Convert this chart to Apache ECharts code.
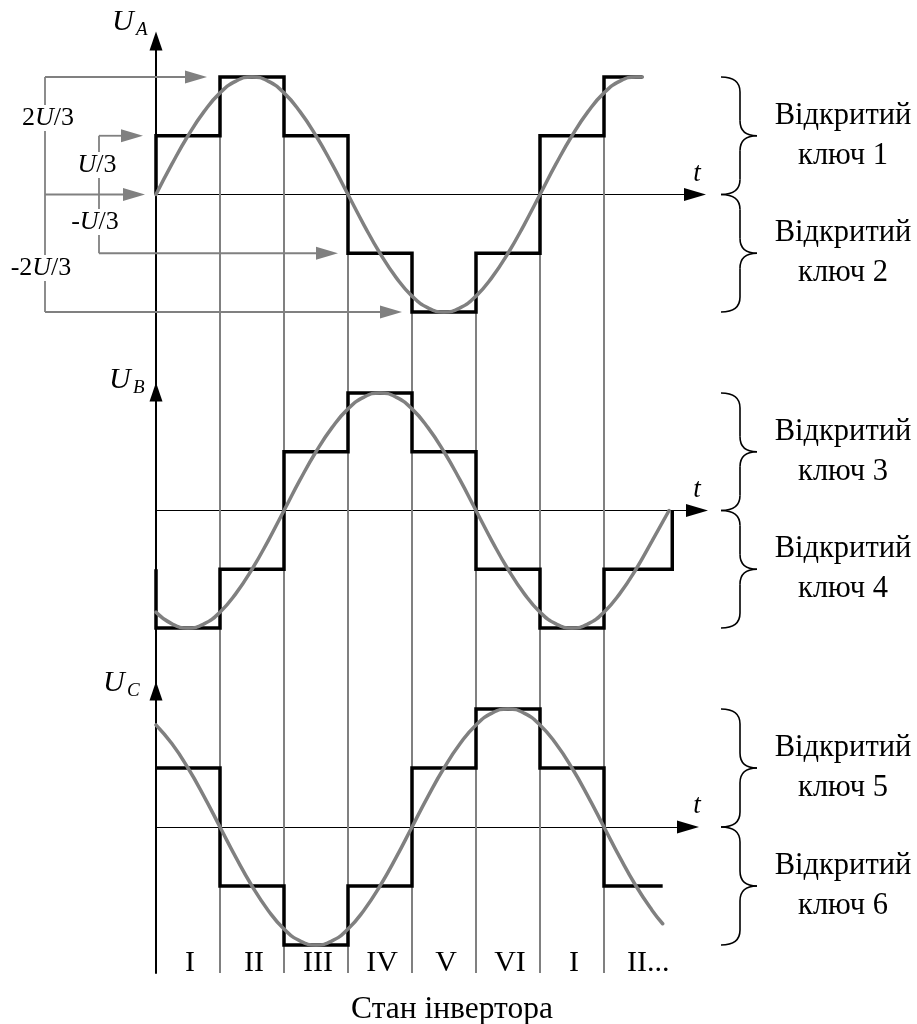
<!DOCTYPE html>
<html>
<head>
<meta charset="utf-8">
<script src="https://cdn.jsdelivr.net/npm/echarts@6/dist/echarts.min.js"></script>
<style>
html, body { margin: 0; padding: 0; background: #fff; }
#chart { width: 917px; height: 1024px; }
</style>
</head>
<body>
<div id="chart"></div>
<script>
// phase voltages in units of U/3, one level per inverter state (60 deg each)
const segDeg = [0, 60, 120, 180, 240, 300, 360, 420];
const stepA = [1, 2, 1, -1, -2, -1, 1, 2];
const stepB = [-2, -1, 1, 2, 1, -1, -2, -1];
const stepC = [1, -1, -2, -1, 1, 2, 1, -1];
const stepEnd = [456, 484, 475];
const stepStart = [0, -1, null];   // value the trace rises/falls from at t = 0
const stepFinal = [null, 0, null]; // value the trace returns to at its end

// fundamental (grey curve), read every 15 deg
const sineDeg = [0, 15, 30, 45, 60, 75, 90, 105, 120, 135, 150, 165, 180, 195, 210, 225,
  240, 255, 270, 285, 300, 315, 330, 345, 360, 375, 390, 405, 420, 435, 450, 465];
const sineA = [0, 0.52, 1.0, 1.41, 1.73, 1.93, 2.0, 1.93, 1.73, 1.41, 1.0, 0.52, 0, -0.52, -1.0, -1.41,
  -1.73, -1.93, -2.0, -1.93, -1.73, -1.41, -1.0, -0.52, 0, 0.52, 1.0, 1.41, 1.73, 1.93, 2.0];
const sineB = [-1.73, -1.93, -2.0, -1.93, -1.73, -1.41, -1.0, -0.52, 0, 0.52, 1.0, 1.41, 1.73, 1.93, 2.0, 1.93,
  1.73, 1.41, 1.0, 0.52, 0, -0.52, -1.0, -1.41, -1.73, -1.93, -2.0, -1.93, -1.73, -1.41, -1.0, -0.52];
const sineC = [1.73, 1.41, 1.0, 0.52, 0, -0.52, -1.0, -1.41, -1.73, -1.93, -2.0, -1.93, -1.73, -1.41, -1.0, -0.52,
  0, 0.52, 1.0, 1.41, 1.73, 1.93, 2.0, 1.93, 1.73, 1.41, 1.0, 0.52, 0, -0.52, -1.0, -1.41];
const sineEnd = [[456, 2.0], [481, 0], [475, -1.64]];

const stateLabels = ['I', 'II', 'III', 'IV', 'V', 'VI', 'I', 'II...'];
const phaseNames = ['A', 'B', 'C'];
const keyNames = [['1', '2'], ['3', '4'], ['5', '6']];

const serif = '"Liberation Serif", "Times New Roman", serif';
const GREY = '#808080';

// layout: 64 px per 60 deg, panels stacked so the vertical axis is continuous
const grids = [
  { top: 41, width: 539, height: 351, min: -3.362, max: 2.613 },
  { top: 392, width: 541, height: 299, min: -3.072, max: 2.017 },
  { top: 691, width: 532, height: 282, min: -2.475, max: 2.305 }
];

const steps = [stepA, stepB, stepC];
const sines = [sineA, sineB, sineC];

function stepPoints(k) {
  const lv = steps[k];
  const pts = [];
  if (stepStart[k] !== null) pts.push([0, stepStart[k]]);
  lv.forEach((v, i) => {
    const x1 = i < lv.length - 1 ? segDeg[i + 1] : stepEnd[k];
    pts.push([segDeg[i], v], [x1, v]);
  });
  if (stepFinal[k] !== null) pts.push([stepEnd[k], stepFinal[k]]);
  return pts;
}

function sinePoints(k) {
  const pts = sines[k].map((v, i) => [sineDeg[i], v]);
  pts.push(sineEnd[k]);
  return pts;
}

function guidePoints(k) {
  const out = [];
  for (let i = 1; i < segDeg.length; i++) {
    const top = k === 0 ? Math.max(stepA[i - 1], stepA[i]) : grids[k].max;
    out.push([segDeg[i], top, grids[k].min]);
  }
  return out;
}

function renderGuide(params, api) {
  const p1 = api.coord([api.value(0), api.value(1)]);
  const p2 = api.coord([api.value(0), api.value(2)]);
  return {
    type: 'line',
    shape: { x1: p1[0], y1: p1[1], x2: p2[0], y2: p2[1] },
    style: { stroke: GREY, lineWidth: 2 }
  };
}

const option = {
  animation: false,
  backgroundColor: '#fff',
  grid: grids.map(g => ({ left: 156, top: g.top, width: g.width, height: g.height, containLabel: false })),
  xAxis: grids.map((g, k) => ({
    type: 'value', gridIndex: k, min: 0, max: g.width * 60 / 64,
    axisLine: { onZero: true, lineStyle: { color: '#000', width: 1.2 }, symbol: ['none', 'triangle'], symbolSize: [13, 22] },
    axisTick: { show: false }, axisLabel: { show: false }, splitLine: { show: false }
  })),
  yAxis: grids.map((g, k) => ({
    type: 'value', gridIndex: k, min: g.min, max: g.max,
    axisLine: { show: true, onZero: false, lineStyle: { color: '#000', width: 2 }, symbol: ['none', 'triangle'], symbolSize: [13, 19] },
    axisTick: { show: false }, axisLabel: { show: false }, splitLine: { show: false }
  })),
  series: []
};

for (let k = 0; k < 3; k++) {
  option.series.push({
    type: 'custom', xAxisIndex: k, yAxisIndex: k, silent: true, clip: false, z: 1,
    encode: { x: 0, y: [1, 2] },
    renderItem: renderGuide, data: guidePoints(k)
  });
  option.series.push({
    type: 'line', xAxisIndex: k, yAxisIndex: k, silent: true, z: 3, symbol: 'none',
    lineStyle: { color: '#000', width: 3.5, join: 'miter', cap: 'butt' },
    data: stepPoints(k)
  });
  option.series.push({
    type: 'line', xAxisIndex: k, yAxisIndex: k, silent: true, z: 4, symbol: 'none', smooth: true,
    lineStyle: { color: GREY, width: 3.5, cap: 'round' },
    data: sinePoints(k)
  });
}

const chart = echarts.init(document.getElementById('chart'));
chart.setOption(option);

const px = (k, x, y) => chart.convertToPixel({ gridIndex: k }, [x, y]);
const yOf = (k, v) => px(k, 0, v)[1];

function text(str, x, y, font, align, extra) {
  return Object.assign({
    type: 'text', z: 50, silent: true,
    style: {
      text: str, x: x, y: y, font: font, fill: '#000',
      align: align || 'center', textAlign: align || 'center',
      verticalAlign: 'middle', textVerticalAlign: 'middle'
    }
  }, extra || {});
}

function seg(x1, y1, x2, y2, color, w) {
  return { type: 'line', z: 40, silent: true, shape: { x1, y1, x2, y2 }, style: { stroke: color, lineWidth: w } };
}

function arrowHead(tipX, y) {
  return {
    type: 'polygon', z: 41, silent: true,
    shape: { points: [[tipX, y], [tipX - 22, y - 6.5], [tipX - 22, y + 6.5]] },
    style: { fill: GREY }
  };
}

function brace(top, mid, bot) {
  const xe = 721, xs = 740, xt = 757, r = 15;
  const st = { stroke: '#000', lineWidth: 1.6, fill: null };
  const c = (x1, y1, cx1, cy1, cx2, cy2, x2, y2) => ({
    type: 'bezierCurve', z: 40, silent: true,
    shape: { x1, y1, cpx1: cx1, cpy1: cy1, cpx2: cx2, cpy2: cy2, x2, y2 }, style: st
  });
  return [
    c(xe, top, xs - 7, top, xs, top + 5, xs, top + r),
    seg(xs, top + r, xs, mid - r, '#000', 1.6),
    c(xs, mid - r, xs, mid - 5, xs + 6, mid, xt, mid),
    c(xt, mid, xs + 6, mid, xs, mid + 5, xs, mid + r),
    seg(xs, mid + r, xs, bot - r, '#000', 1.6),
    c(xs, bot - r, xs, bot - 5, xs - 7, bot, xe, bot)
  ];
}

const g = [];

// level annotations on the left of panel A
const yA = v => yOf(0, v);
g.push(seg(45, yA(2), 45, yA(-2), GREY, 1.8));
g.push(seg(45, yA(2), 190, yA(2), GREY, 1.8), arrowHead(207, yA(2)));
g.push(seg(45, yA(0), 128, yA(0), GREY, 1.8), arrowHead(145, yA(0)));
g.push(seg(45, yA(-2), 385, yA(-2), GREY, 1.8), arrowHead(402, yA(-2)));
g.push(seg(99, yA(1), 99, yA(-1), GREY, 1.8));
g.push(seg(99, yA(1), 126, yA(1), GREY, 1.8), arrowHead(143, yA(1)));
g.push(seg(99, yA(-1), 321, yA(-1), GREY, 1.8), arrowHead(338, yA(-1)));

const lblRich = {
  n: { fontFamily: serif, fontSize: 26, fill: '#000' },
  i: { fontFamily: serif, fontSize: 26, fontStyle: 'italic', fill: '#000' }
};
const lvlLabels = [
  ['{n|2}{i|U}{n|/3}', 48, 118],
  ['{i|U}{n|/3}', 97, 165],
  ['{n|-}{i|U}{n|/3}', 95, 222],
  ['{n|-2}{i|U}{n|/3}', 41, 268]
];
lvlLabels.forEach(l => {
  const t = text(l[0], l[1], l[2], '26px ' + serif, 'center');
  t.style.rich = lblRich;
  t.style.backgroundColor = '#fff';
  t.style.padding = [0, 1];
  g.push(t);
});

// axis names, t labels, braces and key captions
const nameY = [22, 380, 683];
const nameX = [112, 109, 103];
for (let k = 0; k < 3; k++) {
  g.push(text('U', nameX[k], nameY[k], 'italic 30px ' + serif, 'left'));
  g.push(text(phaseNames[k], nameX[k] + 24, nameY[k] + 8, 'italic 19px ' + serif, 'left'));
  const z0 = yOf(k, 0);
  g.push(text('t', 697, z0 - 21, 'italic 27px ' + serif, 'center'));
  g.push(...brace(yOf(k, 2), yOf(k, 1), z0));
  g.push(...brace(z0, yOf(k, -1), yOf(k, -2)));
  [1, -1].forEach((v, j) => {
    const t = text('Відкритий\nключ ' + keyNames[k][j], 843, yOf(k, v), '30.5px ' + serif, 'center');
    t.style.lineHeight = 40;
    g.push(t);
  });
}

// inverter state numerals under the bottom panel
stateLabels.forEach((s, i) => {
  const x0 = px(2, segDeg[i], 0)[0];
  const x1 = px(2, segDeg[i] + 60, 0)[0];
  if (i === stateLabels.length - 1) {
    g.push(text(s, x0 + 23, 963, '30px ' + serif, 'left'));
  } else {
    g.push(text(s, (x0 + x1) / 2 + 2, 963, '30px ' + serif, 'center'));
  }
});
g.push(text('Стан інвертора', 452, 1010, '31.5px ' + serif, 'center'));

chart.setOption({ graphic: { elements: g } });
</script>
</body>
</html>
